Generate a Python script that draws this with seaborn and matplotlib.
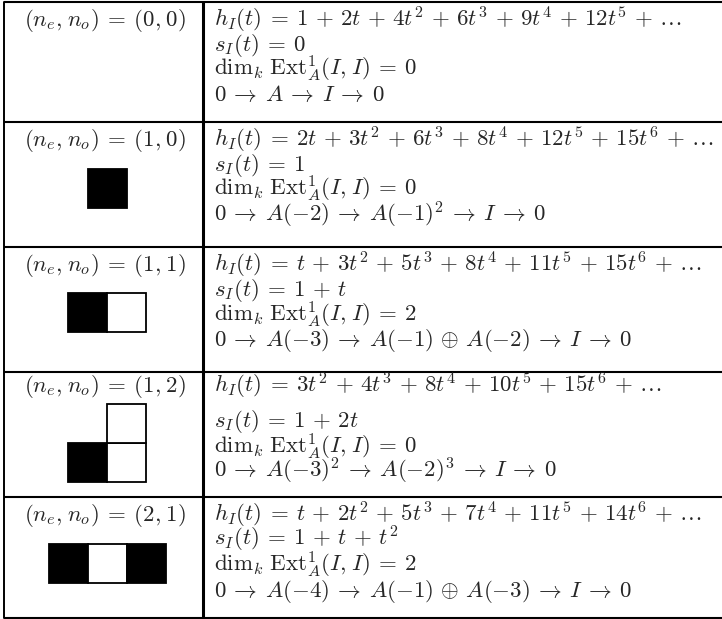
import matplotlib
matplotlib.use("Agg")
import matplotlib.pyplot as plt
import seaborn as sns
from matplotlib.patches import Rectangle

sns.set_theme(style="white")
plt.rcParams['font.family'] = ['DejaVu Serif', 'DejaVu Sans']
plt.rcParams['mathtext.fontset'] = 'cm'

# ---------------- data ----------------
labels = [(0, 0), (1, 0), (1, 1), (1, 2), (2, 1)]
hilbert = [
    [1, 2, 4, 6, 9, 12],
    [0, 2, 3, 6, 8, 12, 15],
    [0, 1, 3, 5, 8, 11, 15],
    [0, 0, 3, 4, 8, 10, 15],
    [0, 1, 2, 5, 7, 11, 14],
]
s_series = [[0], [1], [1, 1], [1, 2], [1, 1, 1]]
ext_dims = [0, 0, 2, 0, 2]
# free modules in the resolutions: (shift, multiplicity); shift 0 means A
syzygies = [[], [(-2, 1)], [(-3, 1)], [(-3, 2)], [(-4, 1)]]
generators = [[(0, 1)], [(-1, 2)], [(-1, 1), (-2, 1)], [(-2, 3)], [(-1, 1), (-3, 1)]]
diagrams = [
    [],
    [(0, 0, True)],
    [(0, 0, True), (1, 0, False)],
    [(0, 0, True), (1, 0, False), (1, 1, False)],
    [(0, 0, True), (1, 0, False), (2, 0, True)],
]

# ---------------- layout ----------------
W, H = 722, 619
row_lines = [2, 122, 247, 372, 497, 618]
baselines = [
    [26, 51, 76, 101],
    [146, 171, 196, 221],
    [271, 296, 321, 346],
    [392, 427, 453, 478],
    [521, 546, 571, 597],
]
diag_bottom = [None, 208, 332, 482, 583]
cell = 39
x_left, x_div, x_text = 4, 203, 214
fs = 16.5
SP_REL, SP_BIN, SP_PUNCT = 0.22, 0.16, 0.06


def rel(sym):
    return rf"\hspace{{{SP_REL}}}{sym}\hspace{{{SP_REL}}}"


def binop(sym):
    return rf"\hspace{{{SP_BIN}}}{sym}\hspace{{{SP_BIN}}}"


COMMA = rf",\hspace{{{SP_PUNCT}}}"


def poly(coeffs, ellipsis=False):
    terms = []
    for k, c in enumerate(coeffs):
        if c == 0:
            continue
        if k == 0:
            t = f"{c}"
        else:
            cs = "" if c == 1 else f"{c}"
            t = f"{cs}t" if k == 1 else f"{cs}t^{{{k}}}"
        terms.append(t)
    if not terms:
        terms = ["0"]
    if ellipsis:
        terms.append(r"\ldots")
    return binop("+").join(terms)


def module(shift, mult):
    base = "A" if shift == 0 else f"A({shift})"
    return base if mult == 1 else f"{base}^{{{mult}}}"


def resolution(syz, gens):
    parts = ["0"]
    if syz:
        parts.append(binop(r"\oplus").join(module(s, m) for s, m in syz))
    parts.append(binop(r"\oplus").join(module(s, m) for s, m in gens))
    parts += ["I", "0"]
    return rel(r"\to").join(parts)


fig = plt.figure(figsize=(W / 100, H / 100), dpi=100)
ax = fig.add_axes([0, 0, 1, 1])
ax.set_xlim(0, W)
ax.set_ylim(H, 0)
ax.axis("off")

for y in row_lines:
    ax.plot([x_left, W], [y, y], color="black", lw=1.5, solid_capstyle="butt")
ax.plot([x_left, x_left], [row_lines[0], row_lines[-1]], color="black", lw=1.4)
ax.plot([x_div, x_div], [row_lines[0], row_lines[-1]], color="black", lw=2.2)

for i in range(len(labels)):
    ne, no = labels[i]
    bl = baselines[i]
    ax.text((x_left + x_div) / 2 + 1, bl[0],
            rf"$(n_e{COMMA}n_o){rel('=')}({ne}{COMMA}{no})$",
            fontsize=fs, ha="center", va="baseline")
    ax.text(x_text, bl[0], rf"$h_I(t){rel('=')}{poly(hilbert[i], True)}$",
            fontsize=fs, ha="left", va="baseline")
    ax.text(x_text, bl[1], rf"$s_I(t){rel('=')}{poly(s_series[i])}$",
            fontsize=fs, ha="left", va="baseline")
    ax.text(x_text, bl[2],
            rf"$\dim_k\,\mathrm{{Ext}}^1_A(I{COMMA}I){rel('=')}{ext_dims[i]}$",
            fontsize=fs, ha="left", va="baseline")
    ax.text(x_text, bl[3], rf"${resolution(syzygies[i], generators[i])}$",
            fontsize=fs, ha="left", va="baseline")

    cells = diagrams[i]
    if cells:
        ncol = max(c for c, _, _ in cells) + 1
        x0 = 107 - ncol * cell / 2
        yb = diag_bottom[i]
        for c, lv, filled in cells:
            ax.add_patch(Rectangle((x0 + c * cell, yb - (lv + 1) * cell), cell, cell,
                                   facecolor="black" if filled else "white",
                                   edgecolor="black", lw=1.3, zorder=3))

fig.savefig("out.png", dpi=100)
